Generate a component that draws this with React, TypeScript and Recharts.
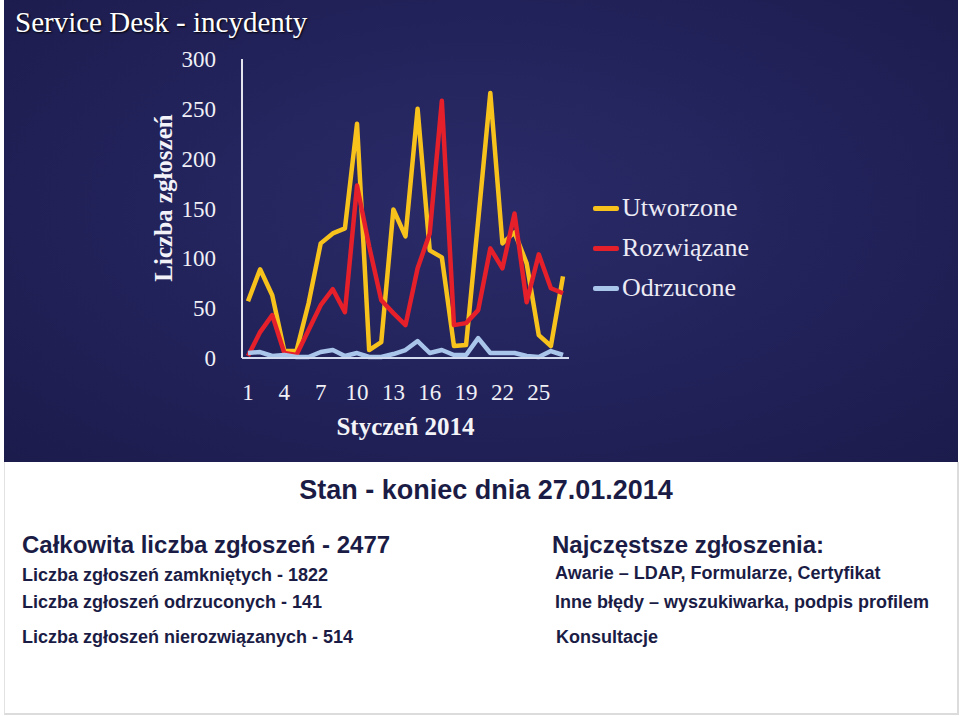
import React from 'react';
import { LineChart, Line, XAxis, YAxis, Legend } from 'recharts';

// Styczeń 2014, dni 1-27
const days = [1, 2, 3, 4, 5, 6, 7, 8, 9, 10, 11, 12, 13, 14, 15, 16, 17, 18, 19, 20, 21, 22, 23, 24, 25, 26, 27];
const utworzone = [57, 89, 63, 7, 7, 55, 115, 125, 130, 235, 8, 16, 149, 122, 250, 108, 101, 12, 13, 138, 266, 115, 126, 95, 23, 12, 82];
const rozwiazane = [2, 26, 43, 5, 3, 28, 53, 69, 46, 173, 112, 58, 45, 33, 90, 125, 258, 33, 35, 48, 110, 90, 145, 56, 104, 70, 65];
const odrzucone = [5, 6, 2, 3, 1, 1, 6, 8, 2, 5, 1, 1, 4, 8, 17, 5, 8, 3, 3, 20, 5, 5, 5, 2, 1, 7, 3];
const yTicks = [0, 50, 100, 150, 200, 250, 300];
const seriesNames = ['Utworzone', 'Rozwiązane', 'Odrzucone'];

const data = days.map((d, i) => ({
  day: d,
  Utworzone: utworzone[i],
  'Rozwiązane': rozwiazane[i],
  Odrzucone: odrzucone[i],
}));

const serif = '"Liberation Serif", "DejaVu Serif", serif';
const sans = '"Liberation Sans", Arial, sans-serif';
const navy = '#1b1c45';

const renderLegend = (props: any) => {
  const items = [...props.payload].sort(
    (a: any, b: any) => seriesNames.indexOf(a.value) - seriesNames.indexOf(b.value),
  );
  return (
    <div>
      {items.map((entry: any) => (
        <div key={entry.value} style={{ display: 'flex', alignItems: 'center', height: 40 }}>
          <span style={{ display: 'inline-block', width: 26, height: 5, borderRadius: 2, background: entry.color, marginRight: 3 }} />
          <span style={{ color: '#ecebf4', fontFamily: serif, fontSize: 26 }}>{entry.value}</span>
        </div>
      ))}
    </div>
  );
};

const textLine = (top: number, left: number, size: number, text: string) => (
  <div style={{ position: 'absolute', top, left, fontFamily: sans, fontWeight: 'bold', fontSize: size, lineHeight: '28px', color: navy, whiteSpace: 'nowrap' }}>
    {text}
  </div>
);

const App: React.FC = () => {
  return (
    <div style={{ position: 'absolute', top: 0, left: 0, width: 960, height: 716, background: '#fff', overflow: 'hidden' }}>
      <div style={{
        position: 'absolute', left: 4, top: 0, width: 954, height: 462,
        background: 'radial-gradient(ellipse at 50% 45%, #2a2b68 0%, #22225a 55%, #1b1b4c 100%)',
      }} />
      <div style={{ position: 'absolute', left: 4, top: 462, width: 952, height: 251, borderLeft: '1px solid #e2e2e2', borderRight: '2px solid #dcdcdc', borderBottom: '2px solid #dcdcdc' }} />

      <div style={{ position: 'absolute', left: 15, top: 5, fontFamily: serif, fontSize: 29, lineHeight: '34px', color: '#fff', textShadow: '1px 1px 2px #000', whiteSpace: 'nowrap' }}>
        Service Desk - incydenty
      </div>

      <div style={{
        position: 'absolute', left: 164, top: 198, transform: 'translate(-50%, -50%) rotate(-90deg)',
        fontFamily: serif, fontWeight: 'bold', fontSize: 25, color: '#f2f2f8', whiteSpace: 'nowrap',
      }}>
        Liczba zgłoszeń
      </div>

      <div style={{ position: 'absolute', left: 0, top: 0 }}>
        <LineChart width={960} height={460} data={data} margin={{ top: 59, right: 391, left: 162, bottom: 12 }}>
          <XAxis
            dataKey="day"
            interval={2}
            padding={{ left: 6, right: 6 }}
            tickSize={0}
            tickMargin={26}
            height={90}
            tick={{ fill: '#f0f0f6', fontSize: 23, fontFamily: serif }}
            axisLine={{ stroke: '#d3dcee', strokeWidth: 2 }}
            label={{
              value: 'Styczeń 2014', position: 'insideBottom', offset: 13,
              style: { fill: '#f4f4f8', fontFamily: serif, fontWeight: 'bold', fontSize: 25 },
            }}
          />
          <YAxis
            domain={[0, 300]}
            ticks={yTicks}
            width={80}
            tickSize={0}
            tickMargin={26}
            tick={{ fill: '#f0f0f6', fontSize: 23, fontFamily: serif }}
            axisLine={{ stroke: '#e4e4ee', strokeWidth: 2 }}
          />
          <Legend
            layout="vertical"
            align="center"
            verticalAlign="middle"
            content={renderLegend}
            wrapperStyle={{ left: 593, top: 188, width: 'auto' }}
          />
          <Line type="linear" dataKey="Utworzone" stroke="#f8c21c" strokeWidth={4.5} dot={false} strokeLinejoin="round" isAnimationActive={false} />
          <Line type="linear" dataKey="Rozwiązane" stroke="#e6202b" strokeWidth={4.5} dot={false} strokeLinejoin="round" isAnimationActive={false} />
          <Line type="linear" dataKey="Odrzucone" stroke="#a9c5ea" strokeWidth={4.5} dot={false} strokeLinejoin="round" isAnimationActive={false} />
        </LineChart>
      </div>

      <div style={{ position: 'absolute', left: 0, width: 960, top: 474, textAlign: 'center', fontFamily: sans, fontWeight: 'bold', fontSize: 27, lineHeight: '32px', color: navy }}>
        <span style={{ marginLeft: 12 }}>Stan - koniec dnia 27.01.2014</span>
      </div>

      {textLine(531, 22, 24, 'Całkowita liczba zgłoszeń - 2477')}
      {textLine(561, 22, 18, 'Liczba zgłoszeń zamkniętych - 1822')}
      {textLine(588, 22, 18, 'Liczba zgłoszeń odrzuconych - 141')}
      {textLine(623, 22, 18, 'Liczba zgłoszeń nierozwiązanych - 514')}

      {textLine(531, 552, 24, 'Najczęstsze zgłoszenia:')}
      {textLine(559, 555, 18, 'Awarie – LDAP, Formularze, Certyfikat')}
      {textLine(588, 555, 18, 'Inne błędy – wyszukiwarka, podpis profilem')}
      {textLine(623, 556, 18, 'Konsultacje')}
    </div>
  );
};

export default App;
